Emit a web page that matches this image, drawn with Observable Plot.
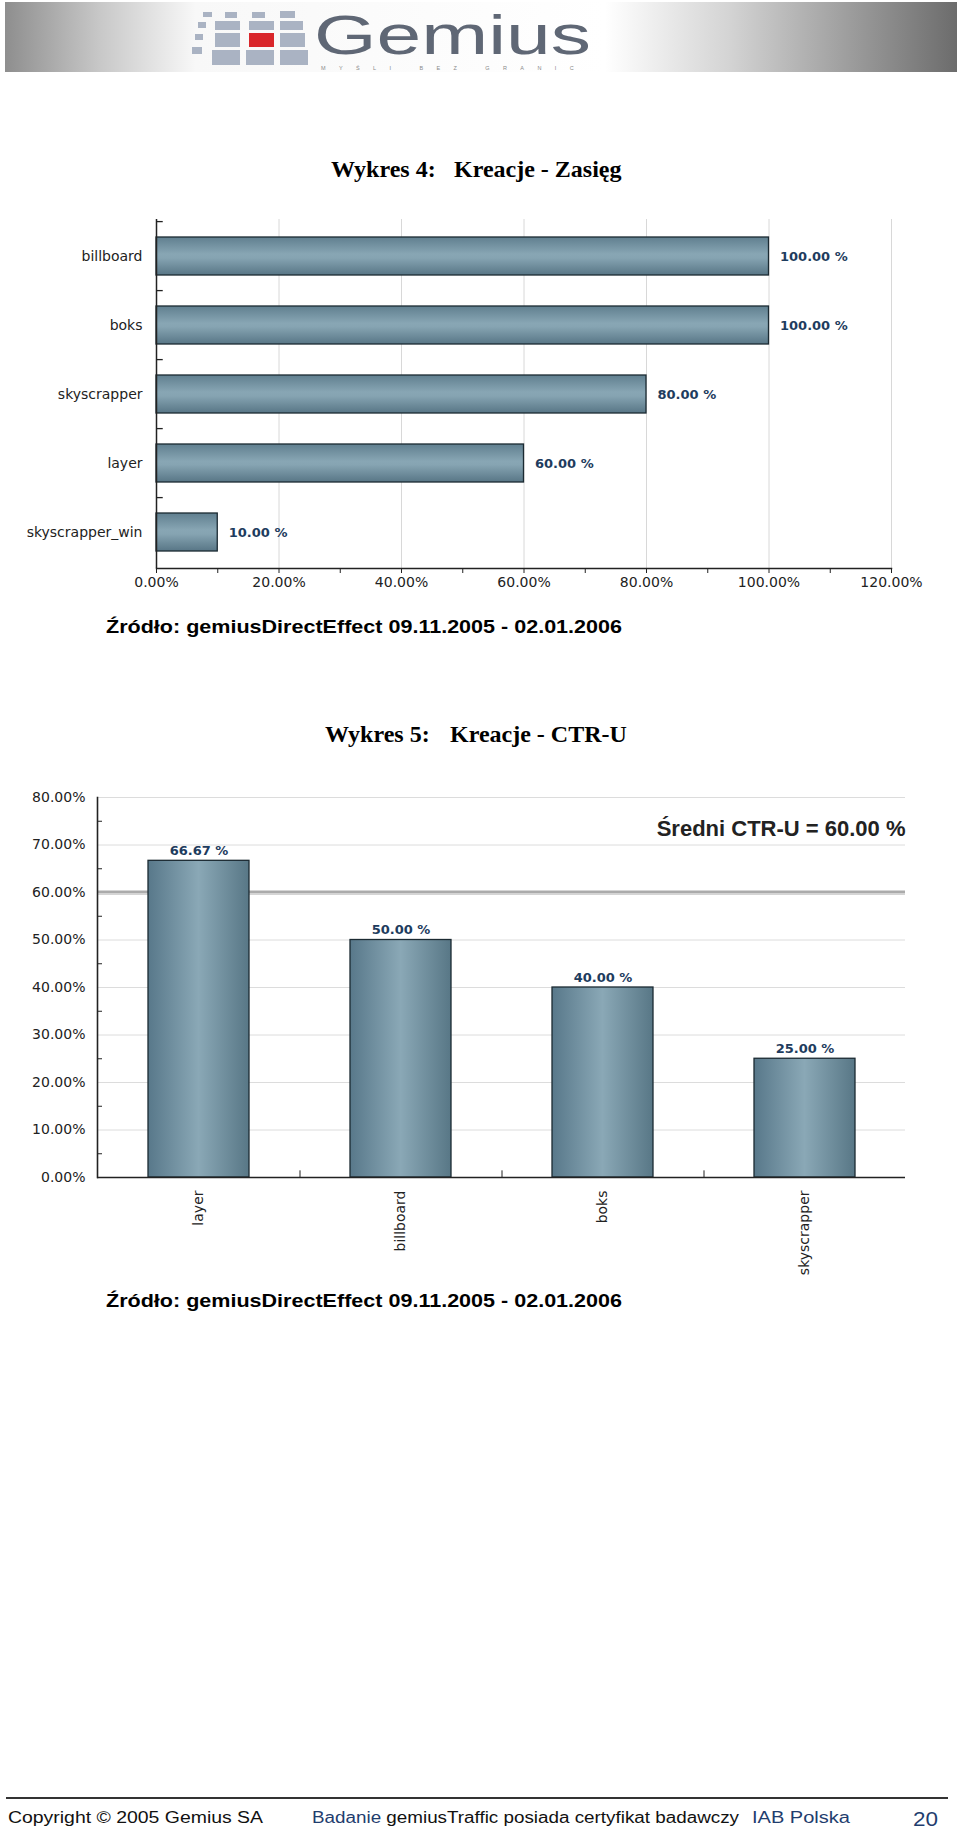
<!DOCTYPE html>
<html><head><meta charset="utf-8">
<script src="https://cdn.jsdelivr.net/npm/d3@7"></script>
<script src="https://cdn.jsdelivr.net/npm/@observablehq/plot@0.6"></script>
<style>
html,body{margin:0;padding:0;background:#fff}
#page{position:relative;width:960px;height:1830px;overflow:hidden;background:#fff}
#page > svg, #page > div{position:absolute;left:0}
</style></head><body><div id="page">
<svg id="bg" width="960" height="1830" style="top:0">
  <defs>
    <linearGradient id="banner" x1="0" x2="1" y1="0" y2="0">
      <stop offset="0" stop-color="#8e8e8e"/>
      <stop offset="0.1" stop-color="#c8c8c8"/>
      <stop offset="0.2" stop-color="#f8f8f8"/>
      <stop offset="0.63" stop-color="#ffffff"/>
      <stop offset="0.76" stop-color="#d4d4d4"/>
      <stop offset="1" stop-color="#6c6c6c"/>
    </linearGradient>
  </defs>
  <rect x="5" y="2" width="952" height="70" fill="url(#banner)"/>
  <g fill="#aab3c3">
    <rect x="203" y="12" width="9" height="5"/><rect x="225" y="12" width="12" height="6"/><rect x="252" y="12" width="13" height="6"/><rect x="280" y="11" width="15" height="7"/>
    <rect x="198" y="22" width="8" height="6"/><rect x="215" y="21" width="25" height="9"/><rect x="249" y="21" width="25" height="9"/><rect x="280" y="21" width="23" height="9"/>
    <rect x="195" y="34" width="8" height="6"/><rect x="215" y="33" width="25" height="14"/><rect x="280" y="33" width="25" height="14"/>
    <rect x="192" y="47" width="10" height="7"/><rect x="212" y="50" width="28" height="15"/><rect x="246" y="50" width="28" height="15"/><rect x="280" y="50" width="28" height="15"/>
  </g>
  <rect x="249" y="33" width="25" height="14" fill="#d9262b"/>
  <text x="314" y="54" font-family="Liberation Sans, Arial, sans-serif" fill="#5f6775" font-size="55" textLength="277" lengthAdjust="spacingAndGlyphs">Gemius</text>
  <text x="321" y="69.5" font-family="Liberation Sans, Arial, sans-serif" font-size="5.5" fill="#8a8a8a" letter-spacing="13.4">MYŚLI BEZ GRANIC</text>

  <text font-family="Liberation Serif, Times New Roman, serif" font-weight="bold" font-size="24" fill="#000" y="177"><tspan x="331">Wykres 4:</tspan><tspan x="454">Kreacje - Zasięg</tspan></text>
  <text font-family="Liberation Sans, Arial, sans-serif" font-weight="bold" font-size="19" fill="#000" x="106" y="633" textLength="516" lengthAdjust="spacingAndGlyphs">Źródło: gemiusDirectEffect 09.11.2005 - 02.01.2006</text>

  <text font-family="Liberation Serif, Times New Roman, serif" font-weight="bold" font-size="24" fill="#000" y="742"><tspan x="325">Wykres 5:</tspan><tspan x="450">Kreacje - CTR-U</tspan></text>
  <text font-family="Liberation Sans, Arial, sans-serif" font-weight="bold" font-size="19" fill="#000" x="106" y="1307" textLength="516" lengthAdjust="spacingAndGlyphs">Źródło: gemiusDirectEffect 09.11.2005 - 02.01.2006</text>

  <line x1="6" x2="948" y1="1798" y2="1798" stroke="#333" stroke-width="2"/>
  <g font-family="Liberation Sans, Arial, sans-serif" font-size="16">
    <text x="8" y="1823" fill="#111" textLength="255" lengthAdjust="spacingAndGlyphs">Copyright © 2005 Gemius SA</text>
    <text x="312" y="1823" fill="#111" textLength="427" lengthAdjust="spacingAndGlyphs"><tspan fill="#1f3d6e">Badanie</tspan> gemiusTraffic posiada certyfikat badawczy</text>
    <text x="752" y="1823" fill="#1f3d6e" textLength="98" lengthAdjust="spacingAndGlyphs">IAB Polska</text>
    <text x="913" y="1826" fill="#1f3d6e" font-size="21" textLength="25" lengthAdjust="spacingAndGlyphs">20</text>
  </g>
</svg>
<div id="chart1" style="top:200px"></div>
<div id="chart2" style="top:780px"></div>
</div>
<script>
// ---- data ----
const reachCats = ["billboard", "boks", "skyscrapper", "layer", "skyscrapper_win"];
const reachVals = [100, 100, 80, 60, 10];
const reachTicks = [0, 20, 40, 60, 80, 100, 120];

const ctrCats = ["layer", "billboard", "boks", "skyscrapper"];
const ctrVals = [66.67, 50, 40, 25];
const ctrTicks = [0, 10, 20, 30, 40, 50, 60, 70, 80];
const ctrAvg = 60;

const reach = reachCats.map((c, i) => ({c, v: reachVals[i]}));
const ctr = ctrCats.map((c, i) => ({c, v: ctrVals[i]}));
const pct = d => d.toFixed(2) + "%";
const valLabel = d => d.v.toFixed(2) + " %";

const LABEL_BLUE = "#1e3c5e";
const BAR_STROKE = "#1b2a32";

function addGradient(svg, id, vertical) {
  const defs = d3.select(svg).insert("defs", ":first-child");
  const g = defs.append("linearGradient").attr("id", id)
    .attr("x1", 0).attr("y1", 0).attr("x2", vertical ? 0 : 1).attr("y2", vertical ? 1 : 0);
  const stops = vertical
    ? [[0, "#607f8f"], [0.45, "#88a6b4"], [0.55, "#86a4b2"], [1, "#587686"]]
    : [[0, "#58788a"], [0.5, "#8aa8b6"], [1, "#587786"]];
  stops.forEach(([o, c]) => g.append("stop").attr("offset", o).attr("stop-color", c));
}

// ---- chart 1 ----
const H1 = 400, MT1 = 19, MB1 = 32;
const step1 = (H1 - MT1 - MB1) / reachCats.length;
const c1 = Plot.plot({
  width: 960, height: H1,
  marginLeft: 156, marginRight: 69, marginTop: MT1, marginBottom: MB1,
  style: {fontFamily: "DejaVu Sans, Verdana, sans-serif", fontSize: "14px", color: "#222", background: "transparent"},
  x: {domain: [0, 120], label: null},
  y: {domain: reachCats, paddingInner: 0.45, paddingOuter: 0.225, align: 0.5, label: null},
  marks: [
    Plot.gridX(reachTicks.slice(1), {stroke: "#d8d8d8", strokeOpacity: 1}),
    Plot.barX(reach, {x: "v", y: "c", fill: "url(#gradV)", stroke: BAR_STROKE, strokeWidth: 1.3}),
    Plot.text(reach, {x: "v", y: "c", text: valLabel, textAnchor: "start", dx: 11, fill: LABEL_BLUE, fontWeight: "bold", fontSize: 13}),
    Plot.axisX(d3.range(0, 121, 10), {tickSize: 5, tickFormat: () => "", stroke: "#222", label: null}),
    Plot.axisX(reachTicks, {tickSize: 0, tickPadding: 9, tickFormat: pct, fill: "#222", label: null}),
    Plot.axisY({tickSize: 0, tickPadding: 14, fill: "#222", label: null}),
    Plot.ruleY(reachCats, {y: d => d, x1: 0, x2: 1.1, dy: -step1 / 2, stroke: "#222", strokeWidth: 1.3}),
    Plot.ruleX([0], {stroke: "#222", strokeWidth: 1.5}),
    Plot.frame({anchor: "bottom", stroke: "#222", strokeWidth: 1.5})
  ]
});
addGradient(c1, "gradV", true);
document.getElementById("chart1").append(c1);

// ---- chart 2 ----
const W2L = 97, W2R = 55;
const step2 = (960 - W2L - W2R) / ctrCats.length;
const c2 = Plot.plot({
  width: 960, height: 510,
  marginLeft: W2L, marginRight: W2R, marginTop: 17, marginBottom: 113,
  style: {fontFamily: "DejaVu Sans, Verdana, sans-serif", fontSize: "14px", color: "#222", background: "transparent"},
  x: {domain: ctrCats, paddingInner: 0.5, paddingOuter: 0.25, align: 0.5, label: null},
  y: {domain: [0, 80], label: null},
  marks: [
    Plot.gridY(ctrTicks.slice(1), {stroke: "#dcdcdc", strokeOpacity: 1}),
    Plot.ruleY([ctrAvg], {stroke: "#ababab", strokeWidth: 4}),
    Plot.ruleY([ctrAvg], {stroke: "#d4d4d4", strokeWidth: 1, dy: 1}),
    Plot.barY(ctr, {x: "c", y: "v", fill: "url(#gradH)", stroke: BAR_STROKE, strokeWidth: 1.3}),
    Plot.text(ctr, {x: "c", y: "v", text: valLabel, lineAnchor: "bottom", dy: -6, fill: LABEL_BLUE, fontWeight: "bold", fontSize: 13}),
    Plot.axisY(ctrTicks, {tickSize: 0, tickPadding: 12, tickFormat: pct, fill: "#222", label: null}),
    Plot.axisY(d3.range(5, 80, 10), {tickSize: -5, tickFormat: () => "", stroke: "#222", label: null}),
    Plot.axisX({tickSize: 0, tickRotate: -90, tickPadding: 13, fill: "#222", label: null}),
    Plot.ruleX(ctrCats.slice(0, -1), {x: d => d, y1: 0, y2: 1.4, dx: step2 / 2, stroke: "#222"}),
    Plot.frame({anchor: "left", stroke: "#222", strokeWidth: 1.6}),
    Plot.ruleY([0], {stroke: "#222", strokeWidth: 1.6}),
    Plot.text([`Średni CTR-U = ${ctrAvg.toFixed(2)} %`], {frameAnchor: "top-right", lineAnchor: "bottom", dy: 38, textAnchor: "end",
      fontFamily: "Liberation Sans, Arial, sans-serif", fontWeight: "bold", fontSize: 22, fill: "#222"})
  ]
});
addGradient(c2, "gradH", false);
document.getElementById("chart2").append(c2);
</script>
</body></html>
